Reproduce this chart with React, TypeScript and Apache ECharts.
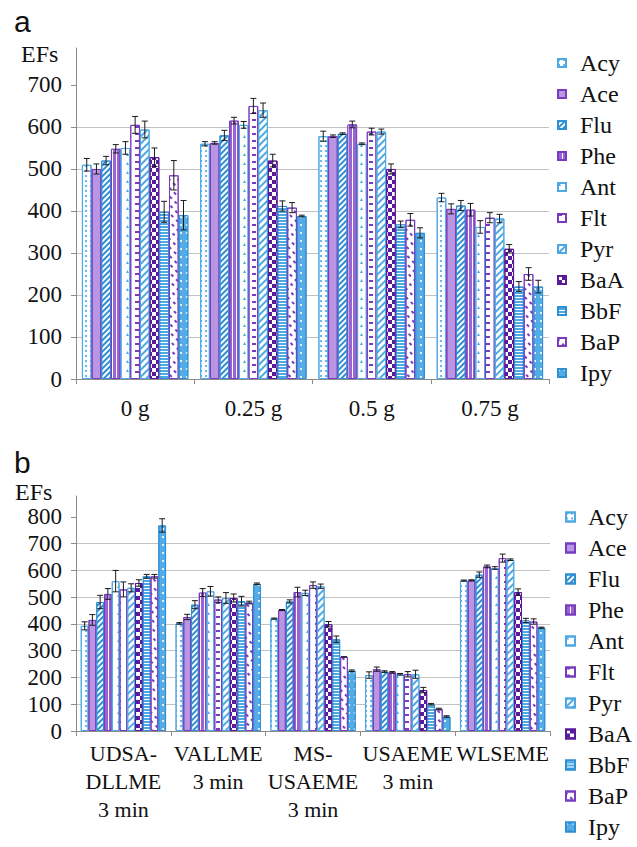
import React, { useEffect, useRef } from 'react';
import * as echarts from 'echarts';

const seriesNames = ['Acy', 'Ace', 'Flu', 'Phe', 'Ant', 'Flt', 'Pyr', 'BaA', 'BbF', 'BaP', 'Ipy'];

// Panel a
const categoriesA = ['0 g', '0.25 g', '0.5 g', '0.75 g'];
const valuesA = [
  [510, 560, 578, 432],
  [500, 562, 578, 405],
  [520, 580, 584, 413],
  [548, 615, 606, 403],
  [550, 605, 560, 362],
  [605, 650, 589, 384],
  [594, 640, 589, 382],
  [528, 520, 500, 310],
  [398, 412, 368, 220],
  [485, 408, 379, 250],
  [390, 388, 348, 220],
];
const errorsA = [
  [15, 5, 12, 10],
  [12, 3, 3, 12],
  [10, 12, 2, 12],
  [10, 8, 8, 15],
  [15, 8, 2, 15],
  [20, 18, 8, 12],
  [20, 17, 6, 10],
  [22, 15, 12, 10],
  [25, 12, 8, 12],
  [35, 12, 15, 15],
  [35, 2, 12, 15],
];
const ticksA = [0, 100, 200, 300, 400, 500, 600, 700];

// Panel b
const categoriesB = ['UDSA-\nDLLME\n3 min', 'VALLME\n3 min', 'MS-\nUSAEME\n3 min', 'USAEME\n3 min', 'WLSEME'];
const valuesB = [
  [393, 402, 420, 209, 562],
  [415, 426, 452, 231, 563],
  [482, 472, 484, 222, 584],
  [512, 517, 519, 219, 615],
  [560, 522, 516, 212, 609],
  [529, 491, 545, 212, 646],
  [535, 497, 541, 212, 640],
  [553, 497, 399, 153, 519],
  [578, 485, 343, 100, 413],
  [578, 480, 277, 82, 409],
  [768, 550, 225, 54, 386],
];
const errorsB = [
  [15, 3, 2, 12, 2],
  [20, 10, 2, 8, 2],
  [25, 15, 6, 3, 10],
  [20, 15, 18, 3, 5],
  [40, 18, 10, 3, 5],
  [28, 10, 12, 10, 15],
  [15, 20, 8, 15, 3],
  [12, 15, 10, 10, 12],
  [7, 18, 12, 3, 8],
  [7, 5, 0, 3, 10],
  [25, 3, 3, 3, 2],
];
const ticksB = [0, 100, 200, 300, 400, 500, 600, 700, 800];

const SERIF = 'Liberation Serif, Times New Roman, serif';
const SANS = 'Liberation Sans, Arial, sans-serif';
const BLUE = '#4ea8e2';
const BLUE_D = '#2f8fd3';
const PURP = '#9a64d2';
const PURP_D = '#7a3cbf';
const PURP_DD = '#5a1a9c';
const AXIS = '#8c8c8c';
const GRID = '#c2c2c2';

const styles: any[] = [
  { color: '#ffffff', borderColor: BLUE, decal: { symbol: 'circle', symbolSize: 1, color: BLUE, dashArrayX: [1.4, 2.6], dashArrayY: [1.4, 2.6] } },
  { color: '#b995e2', borderColor: PURP_D, decal: { symbol: 'circle', symbolSize: 1, color: '#9a68cf', dashArrayX: [1, 2.5], dashArrayY: [1, 2.5] } },
  { color: '#ffffff', borderColor: BLUE_D, decal: { symbol: 'rect', color: BLUE_D, dashArrayX: [1, 0], dashArrayY: [1.4, 1.6], rotation: -Math.PI / 4 } },
  { color: PURP, borderColor: PURP_D, decal: { symbol: 'rect', color: '#ffffff', dashArrayX: [1, 2.6], dashArrayY: [1, 0] } },
  { color: '#ffffff', borderColor: BLUE, decal: { symbol: 'triangle', symbolSize: 1, color: BLUE, dashArrayX: [[3, 6]], dashArrayY: [2.5, 6] } },
  { color: '#ffffff', borderColor: PURP_D, decal: { symbol: 'rect', color: PURP_D, dashArrayX: [[4, 5]], dashArrayY: [1.3, 5] } },
  { color: '#ffffff', borderColor: BLUE, decal: { symbol: 'rect', color: BLUE, dashArrayX: [1, 0], dashArrayY: [1.8, 3], rotation: -Math.PI / 4 } },
  { color: '#ffffff', borderColor: PURP_DD, decal: { symbol: 'rect', color: PURP_DD, dashArrayX: [[4, 4], [0, 4, 4, 0]], dashArrayY: [4, 0] } },
  { color: BLUE, borderColor: BLUE_D, decal: { symbol: 'rect', color: '#ffffff', dashArrayX: [1, 0], dashArrayY: [1, 2] } },
  { color: '#ffffff', borderColor: PURP_D, decal: { symbol: 'rect', color: PURP_D, dashArrayX: [[3, 4]], dashArrayY: [1.2, 4], rotation: Math.PI / 4 } },
  { color: '#55abe6', borderColor: BLUE_D, decal: { symbol: 'circle', symbolSize: 1, color: '#ffffff', dashArrayX: [1.5, 4], dashArrayY: [1.5, 6] } },
];

function barSeries(values: number[][], idx: number) {
  return seriesNames.map((name, s) => ({
    name,
    type: 'bar',
    xAxisIndex: idx,
    yAxisIndex: idx,
    data: values[s],
    barGap: '0%',
    barCategoryGap: '10%',
    itemStyle: { ...styles[s], borderWidth: 1 },
  }));
}

function errSeries(values: number[][], errors: number[][], idx: number) {
  const data: number[][] = [];
  values.forEach((arr, s) => arr.forEach((v, c) => data.push([c, s, v, errors[s][c]])));
  const n = seriesNames.length;
  return {
    type: 'custom',
    xAxisIndex: idx,
    yAxisIndex: idx,
    z: 10,
    silent: true,
    encode: { x: 0, y: 2 },
    data,
    renderItem: (params: any, api: any) => {
      const c = api.value(0);
      const s = api.value(1);
      const v = api.value(2);
      const e = api.value(3);
      const band = api.size([1, 0])[0];
      const barW = (band * 0.9) / n;
      const base = api.coord([c, v]);
      const cx = base[0] + (s - (n - 1) / 2) * barW;
      const yT = api.coord([c, v + e])[1];
      const yB = api.coord([c, v - e])[1];
      const hw = 3;
      const st = { stroke: '#1a1a1a', lineWidth: 1 };
      return {
        type: 'group',
        children: [
          { type: 'line', shape: { x1: cx, y1: yT, x2: cx, y2: yB }, style: st },
          { type: 'line', shape: { x1: cx - hw, y1: yT, x2: cx + hw, y2: yT }, style: st },
          { type: 'line', shape: { x1: cx - hw, y1: yB, x2: cx + hw, y2: yB }, style: st },
        ],
      };
    },
  };
}

function yAxis(idx: number, max: number, ticks: number[]) {
  return {
    type: 'value',
    gridIndex: idx,
    min: 0,
    max,
    interval: 100,
    axisLine: { show: true, lineStyle: { color: AXIS } },
    axisTick: { show: true, length: 5, lineStyle: { color: AXIS }, customValues: ticks },
    axisLabel: {
      margin: 14,
      fontFamily: SERIF,
      fontSize: 23,
      color: '#111',
      formatter: (v: number) => (ticks.indexOf(v) >= 0 ? String(v) : ''),
    },
    splitLine: { show: true, showMaxLine: false, lineStyle: { color: GRID } },
  };
}

function xAxis(idx: number, cats: string[], fontSize: number, margin: number) {
  return {
    type: 'category',
    gridIndex: idx,
    data: cats,
    axisLine: { show: true, lineStyle: { color: AXIS } },
    axisTick: { show: true, length: 5, interval: 0, lineStyle: { color: AXIS } },
    axisLabel: { interval: 0, margin, fontFamily: SERIF, fontSize, lineHeight: 28, color: '#111' },
    splitLine: { show: false },
  };
}

function legend(left: number, top: number, size: number, pad: number) {
  return {
    orient: 'vertical',
    left,
    top,
    height: 360,
    padding: 0,
    itemWidth: size,
    itemHeight: size,
    itemGap: 7,
    icon: 'rect',
    selectedMode: false,
    data: seriesNames,
    formatter: (name: string) => `{n|${name}}`,
    textStyle: {
      fontFamily: SERIF,
      fontSize: 24,
      lineHeight: 24,
      color: '#111',
      rich: { n: { padding: [0, 0, 0, pad], fontFamily: SERIF, fontSize: 24, lineHeight: 24, color: '#111' } },
    },
  };
}

export default function App() {
  const ref = useRef<HTMLDivElement>(null);
  useEffect(() => {
    if (!ref.current) return;
    const chart = echarts.init(ref.current, undefined, { renderer: 'svg' });
    chart.setOption({
      animation: false,
      backgroundColor: '#ffffff',
      grid: [
        { left: 76, top: 48, width: 473, height: 331, containLabel: false, outerBoundsMode: 'none' },
        { left: 76, top: 496, width: 474, height: 235, containLabel: false, outerBoundsMode: 'none' },
      ],
      xAxis: [xAxis(0, categoriesA, 23, 15), xAxis(1, categoriesB, 22, 8)],
      yAxis: [yAxis(0, 788, ticksA), yAxis(1, 878, ticksB)],
      legend: [legend(557, 51, 8, 9), legend(565, 505, 9, 8)],
      graphic: [
        { type: 'text', left: 14, top: 6, style: { text: 'a', fontSize: 30, fontFamily: SANS, fill: '#111' } },
        { type: 'text', left: 14, top: 447, style: { text: 'b', fontSize: 30, fontFamily: SANS, fill: '#111' } },
        { type: 'text', left: 21, top: 42, style: { text: 'EFs', fontSize: 24, fontFamily: SERIF, fill: '#111' } },
        { type: 'text', left: 15, top: 480, style: { text: 'EFs', fontSize: 24, fontFamily: SERIF, fill: '#111' } },
      ],
      series: [
        ...barSeries(valuesA, 0),
        ...barSeries(valuesB, 1),
        errSeries(valuesA, errorsA, 0),
        errSeries(valuesB, errorsB, 1),
      ],
    });
    return () => chart.dispose();
  }, []);
  return (
    <div
      ref={ref}
      style={{ position: 'absolute', left: 0, top: 0, width: 637, height: 847, background: '#ffffff' }}
    />
  );
}
